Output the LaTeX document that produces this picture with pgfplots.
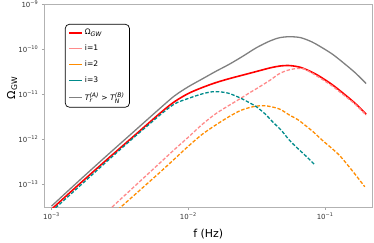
\documentclass[border=0pt]{standalone}
\usepackage{fontspec}
\setmainfont{DejaVu Sans}
\usepackage{amsmath}
\usepackage{pgfplots}
\usepackage{pgfplotstable}
\pgfplotsset{compat=1.18}
\DeclareMathSizes{7.6}{7.6}{6.2}{5}
\definecolor{cred}{HTML}{FF0000}
\definecolor{cpink}{HTML}{FF8A8A}
\definecolor{corange}{HTML}{FF8C00}
\definecolor{cteal}{HTML}{008B8B}
\definecolor{cgray}{HTML}{808080}
% columns: log10(f/Hz)  log10(Omega_GW)
\pgfplotstableread{
lf lo
-3.00 -13.55
-2.80 -13.00
-2.60 -12.46
-2.40 -11.93
-2.20 -11.40
-2.10 -11.16
-2.00 -10.98
-1.90 -10.85
-1.80 -10.74
-1.70 -10.65
-1.60 -10.57
-1.50 -10.49
-1.40 -10.41
-1.33 -10.37
-1.26 -10.36
-1.18 -10.40
-1.10 -10.50
-1.04 -10.60
-0.95 -10.78
-0.87 -10.97
-0.78 -11.20
-0.70 -11.44
}\total
\pgfplotstableread{
lf lo
-2.70 -13.90
-2.60 -13.62
-2.50 -13.34
-2.40 -13.06
-2.30 -12.78
-2.20 -12.50
-2.10 -12.22
-2.00 -11.95
-1.90 -11.67
-1.80 -11.43
-1.70 -11.24
-1.64 -11.13
-1.55 -10.96
-1.50 -10.87
-1.40 -10.68
-1.34 -10.55
-1.28 -10.47
-1.22 -10.43
-1.16 -10.43
-1.10 -10.52
-1.04 -10.63
-0.95 -10.81
-0.87 -11.00
-0.78 -11.22
-0.70 -11.46
}\ione
\pgfplotstableread{
lf lo
-2.60 -13.80
-2.50 -13.52
-2.40 -13.25
-2.30 -12.98
-2.20 -12.71
-2.10 -12.43
-2.00 -12.15
-1.90 -11.89
-1.80 -11.68
-1.70 -11.49
-1.62 -11.36
-1.55 -11.29
-1.50 -11.26
-1.45 -11.25
-1.40 -11.27
-1.33 -11.33
-1.26 -11.46
-1.20 -11.56
-1.14 -11.70
-1.08 -11.85
-1.02 -12.02
-0.95 -12.20
-0.89 -12.37
-0.80 -12.70
-0.71 -13.05
}\itwo
\pgfplotstableread{
lf lo
-3.00 -13.60
-2.80 -13.05
-2.60 -12.50
-2.40 -11.96
-2.30 -11.70
-2.20 -11.44
-2.10 -11.21
-2.00 -11.09
-1.90 -10.99
-1.82 -10.94
-1.75 -10.95
-1.70 -10.98
-1.62 -11.08
-1.55 -11.19
-1.50 -11.28
-1.44 -11.43
-1.38 -11.62
-1.32 -11.80
-1.26 -12.02
-1.20 -12.20
-1.14 -12.37
-1.08 -12.55
}\ithree
\pgfplotstableread{
lf lo
-3.00 -13.48
-2.80 -12.92
-2.60 -12.37
-2.40 -11.83
-2.20 -11.29
-2.10 -11.03
-2.00 -10.83
-1.90 -10.66
-1.80 -10.49
-1.70 -10.33
-1.60 -10.15
-1.50 -9.96
-1.40 -9.81
-1.33 -9.74
-1.26 -9.72
-1.18 -9.74
-1.10 -9.83
-1.04 -9.93
-0.95 -10.10
-0.87 -10.29
-0.78 -10.52
-0.70 -10.76
}\tgray
\begin{document}
\begin{tikzpicture}
\begin{axis}[
  at={(0,0)}, anchor=south west,
  scale only axis, width=328bp, height=202.7bp,
  xmin=-3.053, xmax=-0.655, ymin=-13.5, ymax=-9,
  axis line style={draw=black!30, line width=0.8bp},
  xtick={-3,-2,-1},
  xticklabels={10\textsuperscript{−3},10\textsuperscript{−2},10\textsuperscript{−1}},
  ytick={-13,-12,-11,-10,-9},
  yticklabels={10\textsuperscript{−13},10\textsuperscript{−12},10\textsuperscript{−11},10\textsuperscript{−10},10\textsuperscript{−9}},
  tick align=outside, tick pos=left, major tick length=2.5bp,
  tick style={black!35, line width=0.6bp},
  ticklabel style={font=\fontsize{7}{8}\selectfont, text=black!80},
  xlabel={f (Hz)}, ylabel={Ω\textsubscript{GW}},
  label style={font=\fontsize{11}{13}\selectfont},
  xlabel style={at={(axis description cs:0.5,-0.133)}, anchor=center},
  ylabel style={at={(axis description cs:-0.098,0.587)}, anchor=center},
  legend style={at={(axis description cs:0.063,0.903)}, anchor=north west,
    draw=black, line width=0.7bp, rounded corners=4pt, fill=white,
    font=\fontsize{7.6}{9}\selectfont, row sep=4.6bp, inner xsep=3bp, inner ysep=3bp},
  legend cell align=left,
  legend image code/.code={\draw[#1] (0bp,0bp) -- (13bp,0bp);},
  legend image post style={solid},
  every axis plot/.append style={line join=round},
]
\coordinate (bl) at (rel axis cs:0,0);
\coordinate (tr) at (rel axis cs:1,1);
\addplot[cred, line width=1.6bp, smooth] table[x=lf, y=lo] {\total};
\addlegendentry{Ω\textsubscript{\textit{GW}}}
\addplot[cpink, line width=1.3bp, smooth, dash pattern=on 3.5bp off 1.8bp] table[x=lf, y=lo] {\ione};
\addlegendentry{i=1}
\addplot[corange, line width=1.3bp, smooth, dash pattern=on 3.5bp off 1.8bp] table[x=lf, y=lo] {\itwo};
\addlegendentry{i=2}
\addplot[cteal, line width=1.3bp, smooth, dash pattern=on 3.5bp off 1.8bp] table[x=lf, y=lo] {\ithree};
\addlegendentry{i=3}
\addplot[cgray, line width=1.3bp, smooth] table[x=lf, y=lo] {\tgray};
\addlegendentry{$\textit{T}_{\textit{r}}^{\textit{(A)}}$ > $\textit{T}_{\textit{N}}^{\textit{(B)}}$}
\end{axis}
\pgfresetboundingbox
\path[use as bounding box] ([xshift=-44.3bp,yshift=-36bp]bl) rectangle ([xshift=1.7bp,yshift=4.3bp]tr);
\end{tikzpicture}
\end{document}
